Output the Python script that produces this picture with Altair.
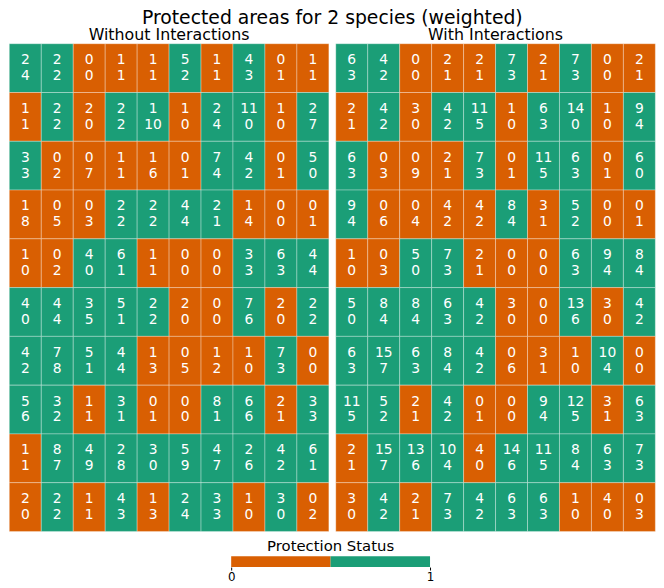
import altair as alt
import pandas as pd

ORANGE = "#D95F02"
GREEN = "#1B9E77"
FONT = "DejaVu Sans"

# Without interactions: species 1 (top number), species 2 (bottom number), protection status
left_sp1 = [
    [2, 2, 0, 1, 1, 5, 1, 4, 0, 1],
    [1, 2, 2, 2, 1, 1, 2, 11, 1, 2],
    [3, 0, 0, 1, 1, 0, 7, 4, 0, 5],
    [1, 0, 0, 2, 2, 4, 2, 1, 0, 0],
    [1, 0, 4, 6, 1, 0, 0, 3, 6, 4],
    [4, 4, 3, 5, 2, 2, 0, 7, 2, 2],
    [4, 7, 5, 4, 1, 0, 1, 1, 7, 0],
    [5, 3, 1, 3, 0, 0, 8, 6, 2, 3],
    [1, 8, 4, 2, 3, 5, 4, 2, 4, 6],
    [2, 2, 1, 4, 1, 2, 3, 1, 3, 0],
]
left_sp2 = [
    [4, 2, 0, 1, 1, 2, 1, 3, 1, 1],
    [1, 2, 0, 2, 10, 0, 4, 0, 0, 7],
    [3, 2, 7, 1, 6, 1, 4, 2, 1, 0],
    [8, 5, 3, 2, 2, 4, 1, 4, 0, 1],
    [0, 2, 0, 1, 1, 0, 0, 3, 3, 4],
    [0, 4, 5, 1, 2, 0, 0, 6, 0, 2],
    [2, 8, 1, 4, 3, 5, 2, 0, 3, 0],
    [6, 2, 1, 1, 1, 0, 1, 6, 1, 3],
    [1, 7, 9, 8, 0, 9, 7, 6, 2, 1],
    [0, 2, 1, 3, 3, 4, 3, 0, 0, 2],
]
left_status = [
    [1, 1, 0, 0, 0, 1, 0, 1, 0, 0],
    [0, 1, 0, 1, 1, 0, 1, 1, 0, 1],
    [1, 0, 0, 0, 0, 0, 1, 1, 0, 1],
    [0, 0, 0, 1, 1, 1, 1, 0, 0, 0],
    [0, 0, 1, 1, 0, 0, 0, 1, 1, 1],
    [1, 1, 1, 1, 1, 0, 0, 1, 0, 1],
    [1, 1, 1, 1, 0, 0, 0, 0, 1, 0],
    [1, 1, 0, 1, 0, 0, 1, 1, 0, 1],
    [0, 1, 1, 1, 1, 1, 1, 1, 1, 1],
    [0, 1, 0, 1, 0, 1, 1, 0, 1, 0],
]

# With interactions
right_sp1 = [
    [6, 4, 0, 2, 2, 7, 2, 7, 0, 2],
    [2, 4, 3, 4, 11, 1, 6, 14, 1, 9],
    [6, 0, 0, 2, 7, 0, 11, 6, 0, 6],
    [9, 0, 0, 4, 4, 8, 3, 5, 0, 0],
    [1, 0, 5, 7, 2, 0, 0, 6, 9, 8],
    [5, 8, 8, 6, 4, 3, 0, 13, 3, 4],
    [6, 15, 6, 8, 4, 0, 3, 1, 10, 0],
    [11, 5, 2, 4, 0, 0, 9, 12, 3, 6],
    [2, 15, 13, 10, 4, 14, 11, 8, 6, 7],
    [3, 4, 2, 7, 4, 6, 6, 1, 4, 0],
]
right_sp2 = [
    [3, 2, 0, 1, 1, 3, 1, 3, 0, 1],
    [1, 2, 0, 2, 5, 0, 3, 0, 0, 4],
    [3, 3, 9, 1, 3, 1, 5, 3, 1, 0],
    [4, 6, 4, 2, 2, 4, 1, 2, 0, 1],
    [0, 3, 0, 3, 1, 0, 0, 3, 4, 4],
    [0, 4, 4, 3, 2, 0, 0, 6, 0, 2],
    [3, 7, 3, 4, 2, 6, 1, 0, 4, 0],
    [5, 2, 1, 2, 1, 0, 4, 5, 1, 3],
    [1, 7, 6, 4, 0, 6, 5, 4, 3, 3],
    [0, 2, 1, 3, 2, 3, 3, 0, 0, 3],
]
right_status = [
    [1, 1, 0, 0, 0, 1, 0, 1, 0, 0],
    [0, 1, 0, 1, 1, 0, 1, 1, 0, 1],
    [1, 0, 0, 0, 1, 0, 1, 1, 0, 1],
    [1, 0, 0, 0, 0, 1, 0, 1, 0, 0],
    [0, 0, 1, 1, 0, 0, 0, 1, 1, 1],
    [1, 1, 1, 1, 1, 0, 0, 1, 0, 1],
    [1, 1, 1, 1, 1, 0, 0, 0, 1, 0],
    [1, 1, 0, 1, 0, 0, 1, 1, 0, 1],
    [0, 1, 1, 1, 0, 1, 1, 1, 1, 1],
    [0, 1, 0, 1, 1, 1, 1, 0, 0, 0],
]

legend_values = [0, 1]
legend_title = "Protection Status"

color_scale = alt.Scale(domain=[0, 1], range=[ORANGE, GREEN])


def panel(sp1, sp2, status, title):
    rows = []
    for r in range(10):
        for c in range(10):
            rows.append({"row": r, "col": c, "sp1": str(sp1[r][c]),
                         "sp2": str(sp2[r][c]), "status": status[r][c]})
    df = pd.DataFrame(rows)
    base = alt.Chart(df).encode(
        x=alt.X("col:O", axis=None, scale=alt.Scale(paddingInner=0, paddingOuter=0)),
        y=alt.Y("row:O", axis=None, scale=alt.Scale(paddingInner=0, paddingOuter=0)),
    )
    rect = base.mark_rect(stroke="white", strokeWidth=0.7, strokeOpacity=0.45).encode(
        color=alt.Color("status:N", scale=color_scale, legend=None)
    )
    t1 = base.mark_text(color="white", fontSize=14, font=FONT, dy=-8).encode(text="sp1:N")
    t2 = base.mark_text(color="white", fontSize=14, font=FONT, dy=8).encode(text="sp2:N")
    return alt.layer(rect, t1, t2).properties(
        width=323, height=493,
        title=alt.TitleParams(title, fontSize=16, font=FONT, fontWeight="normal",
                              color="black", offset=0),
    )


left = panel(left_sp1, left_sp2, left_status, "Without Interactions")
right = panel(right_sp1, right_sp2, right_status, "With Interactions")

leg_df = pd.DataFrame({
    "start": [legend_values[0], 0.5],
    "end": [0.5, legend_values[1]],
    "status": legend_values,
})
legend = alt.Chart(leg_df).mark_rect().encode(
    x=alt.X("start:Q", scale=alt.Scale(domain=legend_values, nice=False),
            axis=alt.Axis(values=legend_values, format="d", title=None, domain=False,
                          grid=False, tickSize=3, tickColor="black", labelFontSize=12,
                          labelFont=FONT, labelColor="black", labelPadding=2,
                          labelFlush=False)),
    x2="end",
    color=alt.Color("status:N", scale=color_scale, legend=None),
).properties(
    width=201, height=11,
    title=alt.TitleParams(legend_title, fontSize=15, font=FONT, fontWeight="normal",
                          color="black", offset=2),
)

chart = alt.vconcat(
    alt.hconcat(left, right, spacing=5),
    legend,
    spacing=7,
    center=True,
).properties(
    title=alt.TitleParams("Protected areas for 2 species (weighted)", fontSize=19,
                          font=FONT, fontWeight="normal", color="black", offset=0,
                          anchor="middle"),
    padding={"top": -3, "left": 0, "right": 0, "bottom": 0},
).configure_view(stroke=None)

chart.save("out.html", embed_options={"renderer": "svg", "actions": False})
